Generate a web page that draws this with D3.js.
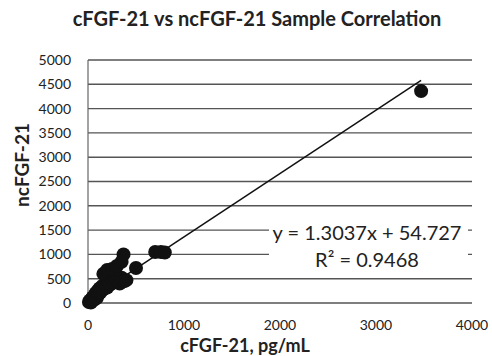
<!DOCTYPE html>
<html>
<head>
<meta charset="utf-8">
<script src="https://cdn.jsdelivr.net/npm/d3@7"></script>
<style>
  body { margin: 0; background: #fff; }
  text { font-family: Lato, "Open Sans", sans-serif; fill: #222; }
</style>
</head>
<body>
<div id="chart"></div>
<script>
const cValues = [10, 20, 30, 40, 50, 60, 70, 80, 90, 100, 110, 120, 130, 150, 160, 180, 200, 210, 230, 250,
  270, 300, 330, 350, 380, 400, 160, 200, 250, 300, 370, 350, 500, 700, 760, 800, 3470];
const ncValues = [20, 50, 10, 80, 120, 60, 150, 200, 100, 250, 180, 300, 220, 350, 280, 400, 320, 450, 380, 500,
  420, 480, 400, 520, 450, 470, 600, 680, 700, 760, 1000, 850, 720, 1050, 1050, 1040, 4360];
const xTicks = [0, 1000, 2000, 3000, 4000];
const yTicks = [0, 500, 1000, 1500, 2000, 2500, 3000, 3500, 4000, 4500, 5000];
const slope = 1.3037, intercept = 54.727;
const eqLabel = "y = 1.3037x + 54.727";
const r2Label = "R² = 0.9468";

const width = 492, height = 356;
const margin = { left: 88, right: 20, top: 60, bottom: 53 };

const svg = d3.select('#chart').append('svg')
  .attr('width', width)
  .attr('height', height);

const x = d3.scaleLinear().domain([0, 4000]).range([margin.left, width - margin.right]);
const y = d3.scaleLinear().domain([0, 5000]).range([height - margin.bottom, margin.top]);

// gridlines
svg.append('g')
  .selectAll('line')
  .data(yTicks)
  .enter().append('line')
    .attr('x1', x(0))
    .attr('x2', x(4000))
    .attr('y1', d => y(d))
    .attr('y2', d => y(d))
    .attr('stroke', '#555')
    .attr('stroke-width', 1.4);

// y axis line
svg.append('line')
  .attr('x1', x(0)).attr('x2', x(0))
  .attr('y1', y(5000)).attr('y2', y(0))
  .attr('stroke', '#666')
  .attr('stroke-width', 1.2);

// tick labels
svg.append('g')
  .selectAll('text')
  .data(yTicks)
  .enter().append('text')
    .attr('x', x(0) - 17)
    .attr('y', d => y(d))
    .attr('dy', '0.35em')
    .attr('text-anchor', 'end')
    .attr('font-size', 14)
    .text(d => d);

svg.append('g')
  .selectAll('text')
  .data(xTicks)
  .enter().append('text')
    .attr('x', d => x(d))
    .attr('y', y(0) + 22)
    .attr('dy', '0.35em')
    .attr('text-anchor', 'middle')
    .attr('font-size', 14)
    .text(d => d);

// trendline
const xMin = d3.min(cValues), xMax = d3.max(cValues);
svg.append('line')
  .attr('x1', x(xMin)).attr('y1', y(slope * xMin + intercept))
  .attr('x2', x(xMax)).attr('y2', y(slope * xMax + intercept))
  .attr('stroke', '#111')
  .attr('stroke-width', 1.5);

// points
svg.append('g')
  .selectAll('circle')
  .data(cValues.map((c, i) => [c, ncValues[i]]))
  .enter().append('circle')
    .attr('cx', d => x(d[0]))
    .attr('cy', d => y(d[1]))
    .attr('r', 7)
    .attr('fill', '#111');

// equation box
svg.append('rect')
  .attr('x', 269).attr('y', 220)
  .attr('width', 199).attr('height', 52)
  .attr('fill', '#fff');

svg.append('text')
  .attr('x', 367).attr('y', 233)
  .attr('dy', '0.35em')
  .attr('text-anchor', 'middle')
  .attr('font-size', 20)
  .text(eqLabel);

svg.append('text')
  .attr('x', 367).attr('y', 260)
  .attr('dy', '0.35em')
  .attr('text-anchor', 'middle')
  .attr('font-size', 20)
  .text(r2Label);

// titles
svg.append('text')
  .attr('x', 257).attr('y', 26)
  .attr('text-anchor', 'middle')
  .attr('font-size', 20)
  .attr('font-weight', 'bold')
  .text('cFGF-21 vs ncFGF-21 Sample Correlation');

svg.append('text')
  .attr('x', 245).attr('y', 346)
  .attr('dy', '0.35em')
  .attr('text-anchor', 'middle')
  .attr('font-size', 18)
  .attr('font-weight', 'bold')
  .text('cFGF-21, pg/mL');

svg.append('text')
  .attr('transform', 'translate(22,165) rotate(-90)')
  .attr('dy', '0.35em')
  .attr('text-anchor', 'middle')
  .attr('font-size', 19)
  .attr('font-weight', 'bold')
  .text('ncFGF-21');
</script>
</body>
</html>
